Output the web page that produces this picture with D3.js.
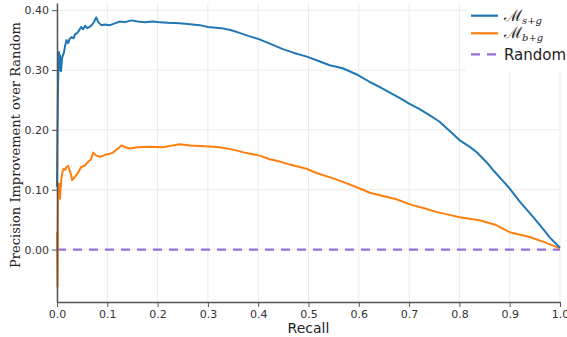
<!DOCTYPE html>
<html>
<head>
<meta charset="utf-8">
<script src="https://cdn.jsdelivr.net/npm/d3@7"></script>
<style>
  body { margin: 0; background: #fff; }
  svg { display: block; }
</style>
</head>
<body>
<div id="chart"></div>
<script>
var w = 567, h = 337;

// M_{s+g}
var recallS = [0, 0.001, 0.002, 0.003, 0.004, 0.005, 0.006, 0.007, 0.008, 0.010, 0.012, 0.014, 0.016, 0.019, 0.022, 0.025, 0.029, 0.033, 0.036, 0.039, 0.043, 0.048, 0.052, 0.056, 0.060, 0.065, 0.070, 0.074, 0.078, 0.082, 0.088, 0.095, 0.105, 0.115, 0.125, 0.135, 0.148, 0.16, 0.175, 0.19, 0.204, 0.22, 0.244, 0.26, 0.284, 0.30, 0.327, 0.345, 0.363, 0.38, 0.40, 0.423, 0.449, 0.47, 0.498, 0.52, 0.542, 0.568, 0.595, 0.622, 0.641, 0.66, 0.68, 0.70, 0.72, 0.738, 0.76, 0.79, 0.80, 0.82, 0.834, 0.854, 0.87, 0.885, 0.90, 0.92, 0.946, 0.965, 0.98, 1.0];
var valuesS = [0.105, 0.20, 0.27, 0.31, 0.33, 0.30, 0.325, 0.31, 0.298, 0.32, 0.325, 0.33, 0.34, 0.35, 0.345, 0.352, 0.355, 0.353, 0.36, 0.361, 0.365, 0.372, 0.368, 0.374, 0.37, 0.372, 0.376, 0.381, 0.388, 0.38, 0.375, 0.376, 0.375, 0.378, 0.381, 0.380, 0.383, 0.381, 0.38, 0.381, 0.380, 0.379, 0.378, 0.377, 0.375, 0.372, 0.370, 0.367, 0.362, 0.357, 0.352, 0.344, 0.335, 0.329, 0.322, 0.315, 0.308, 0.303, 0.293, 0.280, 0.272, 0.263, 0.254, 0.244, 0.235, 0.226, 0.214, 0.191, 0.183, 0.172, 0.163, 0.146, 0.130, 0.116, 0.102, 0.080, 0.055, 0.036, 0.020, 0.003];

// M_{b+g}
var recallB = [0, 0.001, 0.002, 0.003, 0.004, 0.005, 0.006, 0.007, 0.009, 0.011, 0.013, 0.016, 0.019, 0.022, 0.025, 0.028, 0.030, 0.034, 0.038, 0.043, 0.048, 0.055, 0.062, 0.067, 0.072, 0.078, 0.085, 0.092, 0.098, 0.105, 0.111, 0.12, 0.128, 0.136, 0.145, 0.16, 0.184, 0.21, 0.244, 0.265, 0.284, 0.31, 0.323, 0.35, 0.373, 0.403, 0.423, 0.443, 0.463, 0.496, 0.516, 0.549, 0.575, 0.602, 0.622, 0.65, 0.675, 0.70, 0.73, 0.754, 0.78, 0.80, 0.84, 0.873, 0.90, 0.94, 0.97, 1.0];
var valuesB = [0.03, -0.062, 0.07, 0.11, 0.09, 0.11, 0.085, 0.10, 0.12, 0.13, 0.135, 0.133, 0.138, 0.14, 0.133, 0.125, 0.116, 0.12, 0.124, 0.13, 0.138, 0.14, 0.147, 0.15, 0.162, 0.157, 0.155, 0.157, 0.159, 0.16, 0.162, 0.168, 0.174, 0.171, 0.169, 0.171, 0.172, 0.171, 0.176, 0.174, 0.173, 0.172, 0.171, 0.167, 0.162, 0.157, 0.151, 0.147, 0.142, 0.135, 0.128, 0.119, 0.111, 0.102, 0.095, 0.089, 0.084, 0.076, 0.069, 0.063, 0.058, 0.054, 0.049, 0.041, 0.029, 0.021, 0.012, 0.002];

// random baseline
var recallR = [0, 1];
var valuesR = [0, 0];

var xTicks = [0, 0.1, 0.2, 0.3, 0.4, 0.5, 0.6, 0.7, 0.8, 0.9, 1.0];
var yTicks = [0, 0.1, 0.2, 0.3, 0.4];

var margin = {top: 3, right: 7, bottom: 35, left: 57};
var iw = w - margin.left - margin.right,
    ih = h - margin.top - margin.bottom;

var x = d3.scaleLinear().domain([0, 1]).range([0, iw]);
var y = d3.scaleLinear().domain([-0.0876, 0.412]).range([ih, 0]);

var svg = d3.select("#chart").append("svg")
  .attr("width", w)
  .attr("height", h);

var g = svg.append("g")
  .attr("transform", "translate(" + margin.left + "," + margin.top + ")");

// grid
g.append("g").selectAll("line").data(xTicks).enter().append("line")
  .attr("x1", function(d){ return x(d); })
  .attr("x2", function(d){ return x(d); })
  .attr("y1", 0).attr("y2", ih)
  .attr("stroke", "#ebebeb").attr("stroke-width", 1);
g.append("g").selectAll("line").data(yTicks).enter().append("line")
  .attr("y1", function(d){ return y(d); })
  .attr("y2", function(d){ return y(d); })
  .attr("x1", 0).attr("x2", iw)
  .attr("stroke", "#ebebeb").attr("stroke-width", 1);

var line = d3.line()
  .x(function(d){ return x(d[0]); })
  .y(function(d){ return y(d[1]); });

function pairs(a, b) { return a.map(function(v, i){ return [v, b[i]]; }); }

g.append("path")
  .datum(pairs(recallR, valuesR))
  .attr("d", line)
  .attr("fill", "none")
  .attr("stroke", "#9370db")
  .attr("stroke-width", 2.2)
  .attr("stroke-dasharray", "9,7");

g.append("path")
  .datum(pairs(recallB, valuesB))
  .attr("d", line)
  .attr("fill", "none")
  .attr("stroke", "#ff7f0e")
  .attr("stroke-width", 2)
  .attr("stroke-linejoin", "round");

g.append("path")
  .datum(pairs(recallS, valuesS))
  .attr("d", line)
  .attr("fill", "none")
  .attr("stroke", "#1f77b4")
  .attr("stroke-width", 2)
  .attr("stroke-linejoin", "round");

// axes
var xAxis = g.append("g")
  .attr("transform", "translate(0," + ih + ")")
  .call(d3.axisBottom(x).tickValues(xTicks).tickFormat(d3.format(".1f")).tickSize(5).tickSizeOuter(0));
var yAxis = g.append("g")
  .call(d3.axisLeft(y).tickValues(yTicks).tickFormat(d3.format(".2f")).tickSize(5).tickSizeOuter(0));

[xAxis, yAxis].forEach(function(a){
  a.select(".domain").attr("stroke", "#555").attr("stroke-width", 1.5);
  a.selectAll(".tick line").attr("stroke", "#555");
  a.selectAll(".tick text")
    .attr("fill", "#333")
    .style("font-family", "'DejaVu Sans', sans-serif")
    .style("font-size", "11px");
});
yAxis.selectAll(".tick text").attr("x", -8);

// titles
svg.append("text")
  .attr("x", margin.left + iw / 2)
  .attr("y", 333)
  .attr("text-anchor", "middle")
  .style("font-family", "'DejaVu Sans', sans-serif")
  .style("font-size", "14px")
  .attr("fill", "#222")
  .text("Recall");

svg.append("text")
  .attr("transform", "translate(20," + 145 + ") rotate(-90)")
  .attr("text-anchor", "middle")
  .style("font-family", "'DejaVu Serif', serif")
  .style("font-size", "13px")
  .attr("fill", "#222")
  .text("Precision Improvement over Random");

// legend
var legend = svg.append("g");
legend.append("rect")
  .attr("x", 466).attr("y", 0)
  .attr("width", w - 466).attr("height", 71)
  .attr("fill", "#fff");

var items = [
  {sub: "s+g", color: "#1f77b4", dash: null, y: 15.7},
  {sub: "b+g", color: "#ff7f0e", dash: null, y: 33.3},
  {label: "Random", color: "#9370db", dash: "9,7", y: 54.3}
];

items.forEach(function(it){
  legend.append("line")
    .attr("x1", 471).attr("x2", 498)
    .attr("y1", it.y).attr("y2", it.y)
    .attr("stroke", it.color)
    .attr("stroke-width", 2.2)
    .attr("stroke-dasharray", it.dash);
  if (it.sub) {
    var t = legend.append("text")
      .attr("x", 504).attr("y", it.y + 5)
      .style("font-family", "'DejaVu Serif', serif")
      .attr("fill", "#222");
    t.append("tspan").style("font-size", "16px").text("\u2133");
    t.append("tspan").attr("dy", 3).style("font-size", "10px").style("font-style", "italic").text(it.sub);
  } else {
    legend.append("text")
      .attr("x", 504).attr("y", it.y + 6)
      .style("font-family", "'DejaVu Sans', sans-serif")
      .style("font-size", "15px")
      .attr("fill", "#222")
      .text(it.label);
  }
});
</script>
</body>
</html>
